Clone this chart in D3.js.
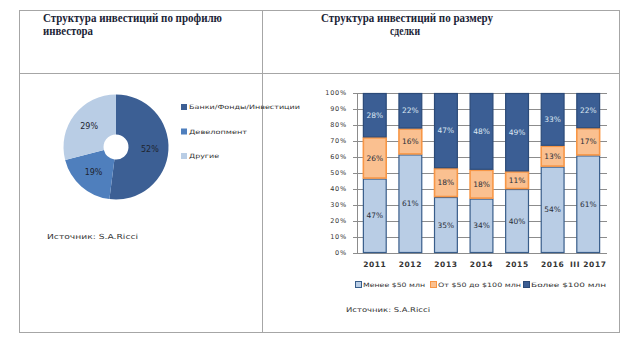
<!DOCTYPE html>
<html>
<head>
<meta charset="utf-8">
<script src="https://cdn.jsdelivr.net/npm/d3@7"></script>
<style>
  html, body { margin: 0; padding: 0; background: #fff; }
  svg { display: block; }
</style>
</head>
<body>
<svg id="chart" width="632" height="344"></svg>
<script>
// Investor profile (donut)
const profileLabels = ["Банки/Фонды/Инвестиции", "Девелопмент", "Другие"];
const profileValues = [52, 19, 29];
const profileColors = ["#3c5f94", "#4f7fbd", "#b9cde5"];

// Deal size (100% stacked columns)
const years = ["2011", "2012", "2013", "2014", "2015", "2016", "III 2017"];
const sizeSeries = ["Менее $50 млн", "От $50 до $100 млн", "Более $100 млн"];
const small = [47, 61, 35, 34, 40, 54, 61];
const medium = [26, 16, 18, 18, 11, 13, 17];
const large = [28, 22, 47, 48, 49, 33, 22];
const yTicks = [0, 10, 20, 30, 40, 50, 60, 70, 80, 90, 100];

const sizeFill = ["#b9cde5", "#fac090", "#3b5e94"];
const sizeStroke = ["#385d8a", "#f79646", "#2b4a78"];
const sizeText = ["#2a2f3a", "#2a2f3a", "#dce6f2"];

const svg = d3.select("#chart");
const smallFont = "DejaVu Sans, sans-serif";

// ---- table frame ----
const frame = svg.append("g").attr("stroke", "#a6a6a6").attr("stroke-width", 1).attr("fill", "none");
frame.append("rect").attr("x", 19.5).attr("y", 10.5).attr("width", 600).attr("height", 322);
frame.append("line").attr("x1", 19.5).attr("x2", 619.5).attr("y1", 73.5).attr("y2", 73.5);
frame.append("line").attr("x1", 262.5).attr("x2", 262.5).attr("y1", 10.5).attr("y2", 332.5);

// ---- titles ----
const titleStyle = s => s.attr("font-family", "Liberation Serif, serif")
  .attr("font-weight", "bold").attr("font-size", 11.5).attr("fill", "#1b2436")
  .attr("lengthAdjust", "spacingAndGlyphs");
svg.append("text").attr("x", 43).attr("y", 21.5).attr("textLength", 179)
  .text("Структура инвестиций по профилю").call(titleStyle);
svg.append("text").attr("x", 43).attr("y", 35).attr("textLength", 50)
  .text("инвестора").call(titleStyle);
svg.append("text").attr("x", 407).attr("y", 21.5).attr("text-anchor", "middle").attr("textLength", 172)
  .text("Структура инвестиций по размеру").call(titleStyle);
svg.append("text").attr("x", 405).attr("y", 35).attr("text-anchor", "middle").attr("textLength", 30)
  .text("сделки").call(titleStyle);

// ---- donut ----
const pieG = svg.append("g").attr("transform", "translate(116,147)");
const pie = d3.pie().sort(null).value(d => d)(profileValues);
const arc = d3.arc().innerRadius(12.5).outerRadius(52.5);
pieG.selectAll("path").data(pie).join("path")
  .attr("d", arc)
  .attr("fill", (d, i) => profileColors[i]);
const labelArc = d3.arc().innerRadius(34).outerRadius(34);
pieG.selectAll("text.v").data(pie).join("text")
  .attr("class", "v")
  .attr("x", d => labelArc.centroid(d)[0])
  .attr("y", d => labelArc.centroid(d)[1])
  .attr("dy", "0.35em")
  .attr("text-anchor", "middle")
  .attr("font-family", smallFont).attr("font-size", 8)
  .attr("fill", "#1f2530")
  .text(d => d.data + "%");

const pieLegend = svg.append("g");
profileLabels.forEach((lab, i) => {
  const y = 107 + i * 24.5;
  pieLegend.append("rect").attr("x", 181).attr("y", y - 3).attr("width", 6).attr("height", 6)
    .attr("fill", profileColors[i]);
  pieLegend.append("text").attr("x", 189).attr("y", y).attr("dy", "0.35em")
    .attr("font-family", smallFont).attr("font-size", 6).attr("fill", "#333")
    .attr("textLength", [111, 58, 30][i]).attr("lengthAdjust", "spacingAndGlyphs")
    .text(lab);
});
svg.append("text").attr("x", 47).attr("y", 237).attr("dy", "0.35em")
  .attr("font-family", smallFont).attr("font-size", 7).attr("fill", "#333")
  .attr("textLength", 91).attr("lengthAdjust", "spacingAndGlyphs")
  .text("Источник: S.A.Ricci");

// ---- stacked columns ----
const x = d3.scaleBand().domain(years).range([357, 606]).paddingInner(0.33).paddingOuter(0.165);
const y = d3.scaleLinear().domain([0, 1]).range([253, 93]);

const rows = years.map((yr, i) => ({ year: yr, s0: small[i], s1: medium[i], s2: large[i] }));
const stacked = d3.stack().keys(["s0", "s1", "s2"]).offset(d3.stackOffsetExpand)(rows);

const plot = svg.append("g");
// grid
plot.selectAll("line.grid").data(yTicks).join("line")
  .attr("class", "grid")
  .attr("x1", 353).attr("x2", 607)
  .attr("y1", d => Math.round(y(d / 100)) + 0.5).attr("y2", d => Math.round(y(d / 100)) + 0.5)
  .attr("stroke", "#8c8c8c").attr("stroke-width", 1);
plot.append("line").attr("x1", 357.5).attr("x2", 357.5).attr("y1", 93).attr("y2", 253.5)
  .attr("stroke", "#8c8c8c");

// y tick labels
plot.selectAll("text.yt").data(yTicks).join("text")
  .attr("class", "yt")
  .attr("x", 347).attr("y", d => y(d / 100)).attr("dy", "0.35em")
  .attr("text-anchor", "end")
  .attr("font-family", smallFont).attr("font-size", 6.5).attr("fill", "#333")
  .attr("letter-spacing", 0.8)
  .text(d => d + "%");

stacked.forEach((layer, k) => {
  const g = plot.append("g");
  g.selectAll("rect").data(layer).join("rect")
    .attr("x", d => x(d.data.year) + 0.5)
    .attr("y", d => y(d[1]) + 0.5)
    .attr("width", x.bandwidth() - 1)
    .attr("height", d => Math.max(0, y(d[0]) - y(d[1]) - 1))
    .attr("fill", sizeFill[k])
    .attr("stroke", sizeStroke[k]).attr("stroke-width", k === 1 ? 1.6 : 1.2);
  g.selectAll("text").data(layer).join("text")
    .attr("x", d => x(d.data.year) + x.bandwidth() / 2)
    .attr("y", d => (y(d[0]) + y(d[1])) / 2).attr("dy", "0.35em")
    .attr("text-anchor", "middle")
    .attr("font-family", smallFont).attr("font-size", 7.5).attr("fill", sizeText[k])
    .text(d => d.data[layer.key] + "%");
});

// x labels
plot.selectAll("text.xt").data(years).join("text")
  .attr("class", "xt")
  .attr("x", d => x(d) + x.bandwidth() / 2).attr("y", 264).attr("dy", "0.35em")
  .attr("text-anchor", "middle")
  .attr("font-family", smallFont).attr("font-size", 7.5).attr("font-weight", "bold")
  .attr("fill", "#333").attr("letter-spacing", 0.6)
  .text(d => d);

// legend
const legX = [355, 430, 523];
const legW = [62, 83, 75];
sizeSeries.forEach((lab, k) => {
  svg.append("rect").attr("x", legX[k] + 0.5).attr("y", 281.5).attr("width", 6).attr("height", 6)
    .attr("fill", sizeFill[k]).attr("stroke", sizeStroke[k]);
  svg.append("text").attr("x", legX[k] + 8).attr("y", 284.5).attr("dy", "0.35em")
    .attr("font-family", smallFont).attr("font-size", 6).attr("fill", "#333")
    .attr("textLength", legW[k]).attr("lengthAdjust", "spacingAndGlyphs")
    .text(lab);
});
svg.append("text").attr("x", 346).attr("y", 310).attr("dy", "0.35em")
  .attr("font-family", smallFont).attr("font-size", 6.5).attr("fill", "#333")
  .attr("textLength", 84).attr("lengthAdjust", "spacingAndGlyphs")
  .text("Источник: S.A.Ricci");
</script>
</body>
</html>
